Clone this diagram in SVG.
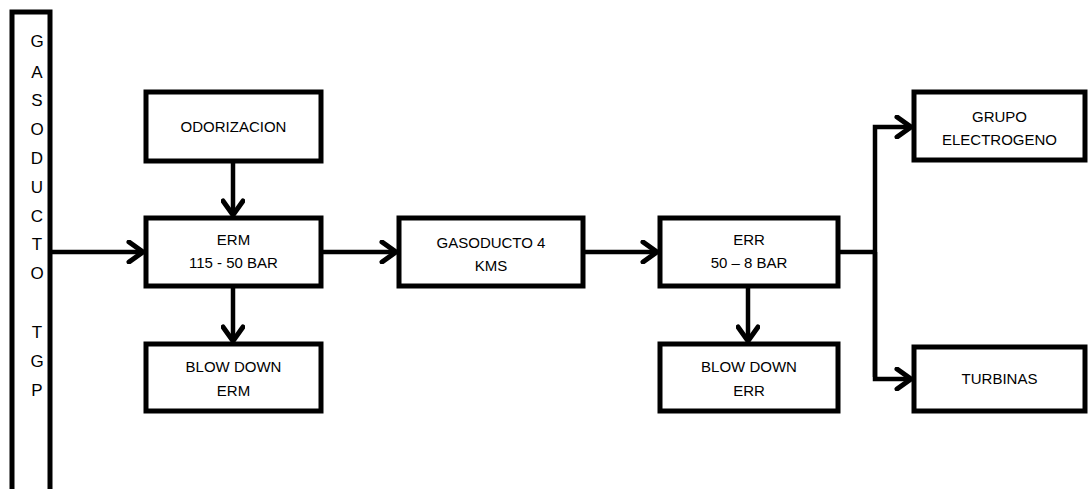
<svg xmlns="http://www.w3.org/2000/svg" width="1088" height="489" viewBox="0 0 1088 489">
<defs>
<style>
.box{fill:#fff;stroke:#000;stroke-width:5}
.t{font-family:"Liberation Sans",Arial,sans-serif;font-size:15px;fill:#000;text-anchor:middle}
.v{font-family:"Liberation Sans",Arial,sans-serif;font-size:17px;fill:#000;text-anchor:middle}
.c{fill:none;stroke:#000;stroke-width:4.5}
</style>
<marker id="ah" markerUnits="userSpaceOnUse" markerWidth="24" markerHeight="24" viewBox="-20 -12 24 24" refX="0" refY="0" orient="auto">
<path d="M-14,-10 L0,0 L-14,10" fill="none" stroke="#000" stroke-width="5" stroke-linecap="round" stroke-linejoin="miter"/>
</marker>
</defs>
<rect width="1088" height="489" fill="#fff"/>
<g id="tgp">
<rect class="box" x="12" y="12" width="38" height="490"/>
<text class="v" x="37" y="47">G</text>
<text class="v" x="37" y="78">A</text>
<text class="v" x="37" y="106">S</text>
<text class="v" x="37" y="135">O</text>
<text class="v" x="37" y="164">D</text>
<text class="v" x="37" y="193">U</text>
<text class="v" x="37" y="222">C</text>
<text class="v" x="37" y="250">T</text>
<text class="v" x="37" y="279">O</text>
<text class="v" x="37" y="338">T</text>
<text class="v" x="37" y="367">G</text>
<text class="v" x="37" y="396">P</text>
</g>
<g id="odorizacion">
<rect class="box" x="146" y="92" width="175" height="69"/>
<text class="t" x="233.5" y="132">ODORIZACION</text>
</g>
<g id="erm">
<rect class="box" x="146" y="218" width="175" height="68"/>
<text class="t" x="233.5" y="245">ERM</text>
<text class="t" x="233.5" y="268">115 - 50 BAR</text>
</g>
<g id="blowdown-erm">
<rect class="box" x="146" y="344" width="175" height="67"/>
<text class="t" x="233.5" y="372">BLOW DOWN</text>
<text class="t" x="233.5" y="396">ERM</text>
</g>
<g id="gasoducto4">
<rect class="box" x="399" y="218" width="184" height="68"/>
<text class="t" x="491" y="248">GASODUCTO 4</text>
<text class="t" x="491" y="271">KMS</text>
</g>
<g id="err">
<rect class="box" x="660" y="218" width="178" height="68"/>
<text class="t" x="749" y="245">ERR</text>
<text class="t" x="749" y="268">50 – 8 BAR</text>
</g>
<g id="blowdown-err">
<rect class="box" x="660" y="344" width="178" height="67"/>
<text class="t" x="749" y="372">BLOW DOWN</text>
<text class="t" x="749" y="396">ERR</text>
</g>
<g id="grupo">
<rect class="box" x="914" y="92" width="171" height="68"/>
<text class="t" x="999.5" y="122">GRUPO</text>
<text class="t" x="999.5" y="145">ELECTROGENO</text>
</g>
<g id="turbinas">
<rect class="box" x="914" y="347" width="171" height="64"/>
<text class="t" x="999.5" y="384">TURBINAS</text>
</g>
<g id="connectors">
<path class="c" d="M52,252 H143" marker-end="url(#ah)"/>
<path class="c" d="M233,163 V215" marker-end="url(#ah)"/>
<path class="c" d="M233,288 V341" marker-end="url(#ah)"/>
<path class="c" d="M323,252 H396" marker-end="url(#ah)"/>
<path class="c" d="M585,252 H657" marker-end="url(#ah)"/>
<path class="c" d="M748,288 V341" marker-end="url(#ah)"/>
<path class="c" d="M840,252 H875"/>
<path class="c" d="M875,377 V127 H911" marker-end="url(#ah)"/>
<path class="c" d="M875,252 V379 H911" marker-end="url(#ah)"/>
</g>
</svg>
